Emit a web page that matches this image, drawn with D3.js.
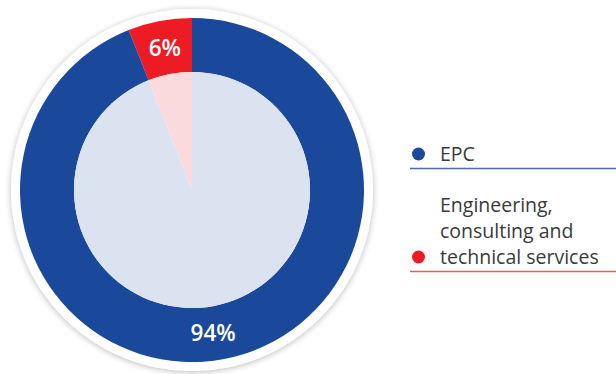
<!DOCTYPE html>
<html><head><meta charset="utf-8">
<script src="https://cdn.jsdelivr.net/npm/d3@7"></script>
<style>html,body{margin:0;padding:0;background:#fff;}svg{display:block;}</style>
</head><body>
<svg id="c" width="616" height="374"></svg>
<script>
const categories = ["Engineering, consulting and technical services", "EPC"];
const values = [6, 94];
const labels = ["6%", "94%"];
const colors = ["#ed1c24", "#1a489b"];
const innerColors = ["#fbdadd", "#dbe3f0"];
const legendLines = [["EPC"], ["Engineering,", "consulting and", "technical services"]];
const legendColors = ["#1a489b", "#ed1c24"];
const legendLineColors = ["#4a6eb0", "#f05a61"];

const svg = d3.select("#c");
const defs = svg.append("defs");
const f = defs.append("filter").attr("id","sh").attr("x","-20%").attr("y","-20%").attr("width","140%").attr("height","140%");
f.append("feDropShadow").attr("dx",0).attr("dy",1).attr("stdDeviation",3).attr("flood-color","#000").attr("flood-opacity",0.28);

const cx = 192, cy = 190;
const g = svg.append("g").attr("transform", `translate(${cx},${cy})`);
g.append("circle").attr("r", 181).attr("fill", "#fff").attr("filter","url(#sh)");

const pie = d3.pie().sort(null).startAngle(-values[0]/100*2*Math.PI).endAngle(2*Math.PI - values[0]/100*2*Math.PI);
const arcs = pie(values);
const outer = d3.arc().innerRadius(118).outerRadius(172);
const inner = d3.arc().innerRadius(0).outerRadius(118);
const labelArc = d3.arc().innerRadius(145).outerRadius(145);
const labelDx = [0, -6];

g.selectAll("path.o").data(arcs).join("path").attr("class","o").attr("d", outer).attr("fill", (d,i)=>colors[i]);
g.selectAll("path.i").data(arcs).join("path").attr("class","i").attr("d", inner).attr("fill", (d,i)=>innerColors[i]);
g.selectAll("text.l").data(arcs).join("text").attr("class","l")
  .attr("transform", d => { const c = labelArc.centroid(d); return `translate(${c[0]},${c[1]})`; })
  .attr("dx", (d,i)=>labelDx[i])
  .attr("text-anchor","middle").attr("dy","0.36em")
  .attr("font-family","'Open Sans', 'Noto Sans', sans-serif").attr("font-size", 22.5).attr("font-weight", 600)
  .attr("fill","#fff").text((d,i)=>labels[i]);

// legend
const lg = svg.append("g").attr("font-family","'Open Sans', 'Noto Sans', sans-serif").attr("font-size",19.5).attr("fill","#3a3a3a");
const blocks = [{y: 161, line: 168.5}, {y: 212, line: 271.5}];
legendLines.forEach((lines, k) => {
  const b = blocks[k];
  const lastY = b.y + (lines.length - 1) * 26;
  lg.append("circle").attr("cx", 418.5).attr("cy", lastY - 7).attr("r", 6.5).attr("fill", legendColors[k]);
  lines.forEach((t, j) => {
    lg.append("text").attr("x", 440).attr("y", b.y + j * 26).text(t);
  });
  lg.append("line").attr("x1", 410).attr("x2", 616).attr("y1", b.line).attr("y2", b.line)
    .attr("stroke", legendLineColors[k]).attr("stroke-width", 1.3);
});
</script>
</body></html>
